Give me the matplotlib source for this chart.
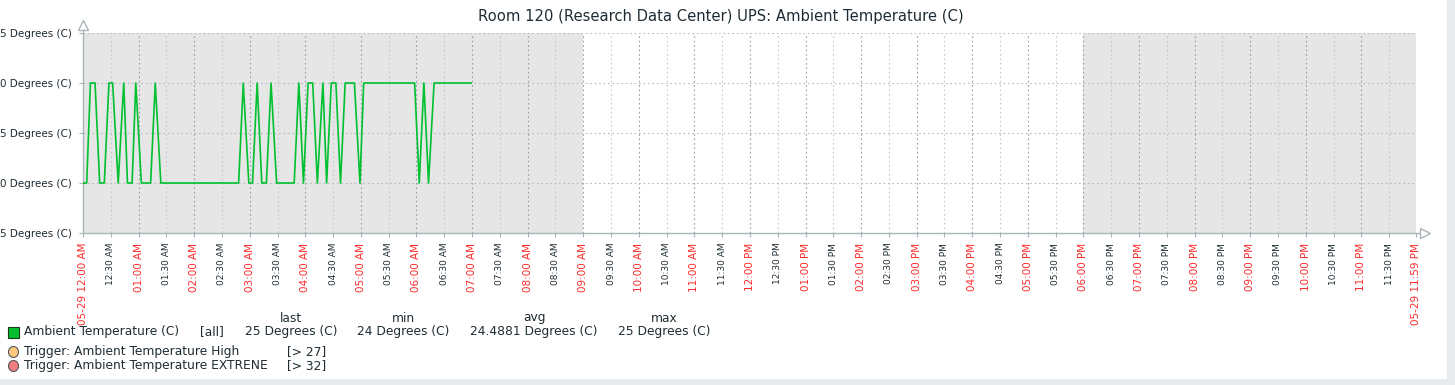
import matplotlib
matplotlib.use("Agg")
import matplotlib.pyplot as plt
from matplotlib.patches import Rectangle, Ellipse

plt.rcParams["font.family"] = ["DejaVu Sans"]

TITLE = "Room 120 (Research Data Center) UPS: Ambient Temperature (C)"
# minutes since 05-29 00:00 and temperature (C)
t_min = [0, 4, 8, 13, 18, 23, 28, 32, 38, 44, 48, 53, 57, 63, 73, 78, 84,
         168, 173, 179, 183, 188, 193, 198, 203, 209, 228, 233, 238, 243, 248,
         253, 259, 263, 268, 273, 278, 283, 293, 299, 303, 358, 363, 368, 373,
         379, 419]
temp = [24, 24, 25, 25, 24, 24, 25, 25, 24, 25, 24, 24, 25, 24, 24, 25, 24,
        24, 25, 24, 24, 25, 24, 24, 25, 24, 24, 25, 24, 25, 25,
        24, 25, 24, 25, 25, 24, 25, 25, 24, 25, 25, 24, 25, 24,
        25, 25]
y_ticks = [23.5, 24.0, 24.5, 25.0, 25.5]
# y labels as they are visible in the (left-cropped) original
y_labels = ["5 Degrees (C)", "0 Degrees (C)", "5 Degrees (C)", "0 Degrees (C)", "5 Degrees (C)"]
shade = [(0, 540), (1080, 1439)]
leg_cols = ["last", "min", "avg", "max"]
leg_vals = ["25 Degrees (C)", "24 Degrees (C)", "24.4881 Degrees (C)", "25 Degrees (C)"]
triggers = [("Trigger: Ambient Temperature High", "[> 27]", "#ffc880"),
            ("Trigger: Ambient Temperature EXTRENE", "[> 32]", "#f08080")]

GREEN = "#00c030"; RED = "#ff2a2a"; DARK = "#1f2c33"; AX = "#aab5ba"

W, H = 1455, 385
fig = plt.figure(figsize=(W / 100, H / 100), dpi=100, facecolor="white")
L, R, T, B = 83, 1416, 33, 233
ax = fig.add_axes([L / W, 1 - B / H, (R - L) / W, (B - T) / H])
ax.set_facecolor("white")
for a, b in shade:
    ax.axvspan(a, b, color="#e6e6e6", lw=0, zorder=0)
ax.set_xlim(0, 1439)
ax.set_ylim(23.5, 25.5)

# grid
for m in list(range(30, 1440, 30)) + [1439]:
    c = "#8fa0a6" if m % 60 == 0 else "#c2cacd"
    ax.axvline(m, color=c, lw=0.8, ls=(0, (1.5, 2.5)), zorder=1)
for y in y_ticks[1:]:
    ax.axhline(y, color="#b4bcc0", lw=0.8, ls=(0, (1.5, 2.5)), zorder=1)

ax.plot(t_min, temp, color=GREEN, lw=1.2, zorder=3)

for s in ["top", "right"]:
    ax.spines[s].set_visible(False)
for s in ["left", "bottom"]:
    ax.spines[s].set_color(AX)
    ax.spines[s].set_linewidth(1)
ax.plot([0, 0], [25.5, 25.54], color=AX, lw=1, clip_on=False, zorder=5)
ax.plot([0], [25.58], marker="^", ms=7, mfc="white", mec=AX, clip_on=False, zorder=5)
ax.plot([1, 1.004], [0, 0], color=AX, lw=1, clip_on=False, transform=ax.transAxes, zorder=5)
ax.plot(1.0065, 0, marker=">", ms=7, mfc="white", mec=AX, clip_on=False,
        transform=ax.transAxes, zorder=5)

ax.set_yticks(y_ticks)
ax.set_yticklabels(y_labels, fontsize=7.5, color=DARK)
ax.tick_params(axis="y", length=3, color=AX, pad=5)

ticks = list(range(0, 1440, 30)) + [1439]
labels, colors = [], []
for m in ticks:
    h, mm = divmod(m, 60)
    h12 = h % 12 or 12
    s = f"{h12:02d}:{mm:02d} {'AM' if h < 12 else 'PM'}"
    if m in (0, 1439):
        s = "05-29 " + s
    labels.append(s)
    colors.append(RED if mm == 0 or m == 1439 else DARK)
ax.set_xticks(ticks)
ax.set_xticklabels(labels, rotation=90)
for lab, c in zip(ax.get_xticklabels(), colors):
    lab.set_color(c)
    lab.set_fontsize(7.5 if c == RED else 6.5)
ax.tick_params(axis="x", length=3, color=AX, pad=4)

fig.text(721 / W, 1 - 16 / H, TITLE, ha="center", va="center", fontsize=10.6, color=DARK)

# legend
fs = 8.8
def ty(y): return 1 - y / H
centers = [291, 403, 534, 664]
for c, h in zip(centers, leg_cols):
    fig.text(c / W, ty(318), h, ha="center", va="center", fontsize=fs, color=DARK)
for c, v in zip(centers, leg_vals):
    fig.text(c / W, ty(332), v, ha="center", va="center", fontsize=fs, color=DARK)
fig.patches.append(Rectangle((8 / W, ty(338)), 11 / W, 11 / H, transform=fig.transFigure,
                             fc=GREEN, ec="#1a3a1a", lw=0.8))
fig.text(24 / W, ty(332), "Ambient Temperature (C)", va="center", fontsize=fs, color=DARK)
fig.text(200 / W, ty(332), "[all]", va="center", fontsize=fs, color=DARK)
for i, (name, cond, col) in enumerate(triggers):
    y = 352 + 14 * i
    fig.add_artist(Ellipse((13.5 / W, ty(y)), 10 / W, 11 / H,
                           transform=fig.transFigure, fc=col, ec="#555555", lw=0.8))
    fig.text(24 / W, ty(y), name, va="center", fontsize=fs, color=DARK)
    fig.text(287 / W, ty(y), cond, va="center", fontsize=fs, color=DARK)

# page chrome
fig.patches.append(Rectangle((0, 0), 1, 6 / H, transform=fig.transFigure, fc="#e8ebed", ec="none"))
fig.patches.append(Rectangle((1447 / W, 0), 8 / W, 1, transform=fig.transFigure, fc="#e8ebed", ec="none"))

fig.savefig("out.png", dpi=100, facecolor="white")
